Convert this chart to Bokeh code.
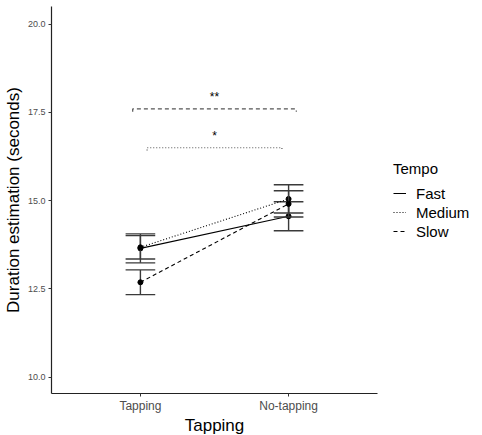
from bokeh.plotting import figure
from bokeh.models import (ColumnDataSource, Legend, LegendItem, FixedTicker,
                          NumeralTickFormatter, CustomJSTickFormatter)
from bokeh.core.properties import value
from bokeh.embed import file_html
from bokeh.resources import INLINE

# ---- data ----
conditions = ["Tapping", "No-tapping"]
tempos = ["Fast", "Medium", "Slow"]
fast_mean = [13.65, 14.56]
fast_se = [0.41, 0.41]
medium_mean = [13.68, 15.05]
medium_se = [0.33, 0.40]
slow_mean = [12.69, 14.91]
slow_se = [0.35, 0.37]
y_ticks = [10.0, 12.5, 15.0, 17.5, 20.0]

bracket_start = ["Tapping", "Tapping"]
bracket_end = ["No-tapping", "No-tapping"]
bracket_y = [17.6, 16.5]
bracket_labels = ["**", "*"]

FONT = "Liberation Sans"
x_pos = {c: i + 1 for i, c in enumerate(conditions)}
xs = [x_pos[c] for c in conditions]

p = figure(frame_width=326, frame_height=387, x_range=(0.4, 2.6), y_range=(9.54, 20.5),
           output_backend="svg", toolbar_location=None,
           min_border_left=51, min_border_right=105, min_border_top=6,
           min_border_bottom=40)
p.outline_line_color = None
p.xgrid.visible = False
p.ygrid.visible = False
p.background_fill_color = "white"

series = [
    ("Fast", fast_mean, fast_se, "solid"),
    ("Medium", medium_mean, medium_se, "1 2"),
    ("Slow", slow_mean, slow_se, "4 3"),
]

cap = 0.1
items = []
for name, mean, se, dash in series:
    lo = [m - s for m, s in zip(mean, se)]
    hi = [m + s for m, s in zip(mean, se)]
    src = ColumnDataSource(dict(x=xs, y=mean, lo=lo, hi=hi,
                                xl=[x - cap for x in xs], xr=[x + cap for x in xs]))
    p.segment(x0="x", y0="lo", x1="x", y1="hi", source=src, line_color="#3a3a3a", line_width=1.4)
    p.segment(x0="xl", y0="lo", x1="xr", y1="lo", source=src, line_color="#3a3a3a", line_width=1.4)
    p.segment(x0="xl", y0="hi", x1="xr", y1="hi", source=src, line_color="#3a3a3a", line_width=1.4)
    r = p.line(x="x", y="y", source=src, line_color="black", line_width=1.1, line_dash=dash)
    p.scatter(x="x", y="y", source=src, size=5, color="black")
    items.append(LegendItem(label=name, renderers=[r]))

# significance brackets
tip = 0.08
for s, e, yb, lab, dash, off in zip(bracket_start, bracket_end, bracket_y, bracket_labels,
                                    ["4 3", "1 2"], [0.052, -0.045]):
    x0 = x_pos[s] - off
    x1 = x_pos[e] + off
    p.line(x=[x0, x0, x1, x1], y=[yb - tip, yb, yb, yb - tip], line_color="#555555",
           line_width=1.2, line_dash=dash)
    p.text(x=[(x_pos[s] + x_pos[e]) / 2], y=[yb + 0.33], text=[lab],
           text_font=value(FONT), text_font_size="12px", text_align="center",
           text_baseline="middle", text_color="black")

legend = Legend(items=items, title="Tempo", location="center_left")
legend.title_text_font = FONT
legend.title_text_font_size = "15px"
legend.title_text_font_style = "normal"
legend.title_text_color = "black"
legend.title_standoff = 7
legend.label_text_font = FONT
legend.label_text_font_size = "15px"
legend.label_text_color = "black"
legend.glyph_width = 13
legend.glyph_height = 19
legend.label_height = 19
legend.label_standoff = 10
legend.spacing = 0
legend.padding = 3
legend.margin = 16
legend.border_line_color = None
legend.background_fill_alpha = 0
p.add_layout(legend, "right")

# axes
xa = p.xaxis[0]
xa.ticker = FixedTicker(ticks=xs)
xa.formatter = CustomJSTickFormatter(args=dict(labels=conditions),
                                     code="return labels[Math.round(tick) - 1];")
xa.axis_label = "Tapping"
ya = p.yaxis[0]
ya.ticker = FixedTicker(ticks=y_ticks)
ya.formatter = NumeralTickFormatter(format="0.0")
ya.axis_label = "Duration estimation (seconds)"
for ax in (xa, ya):
    ax.axis_line_color = "#222222"
    ax.axis_line_width = 1.2
    ax.major_tick_line_color = "#333333"
    ax.major_tick_out = 3
    ax.major_tick_in = 0
    ax.minor_tick_line_color = None
    ax.major_label_text_font = FONT
    ax.major_label_text_color = "#4d4d4d"
    ax.axis_label_text_font = FONT
    ax.axis_label_text_font_style = "normal"
    ax.axis_label_text_color = "black"
    ax.axis_label_text_font_size = "17px"
xa.major_label_standoff = 2
xa.axis_label_standoff = 0
ya.major_label_standoff = 3
ya.axis_label_standoff = 2
xa.major_label_text_font_size = "12px"
ya.major_label_text_font_size = "9px"

open("out.html", "w").write(file_html(p, INLINE))
